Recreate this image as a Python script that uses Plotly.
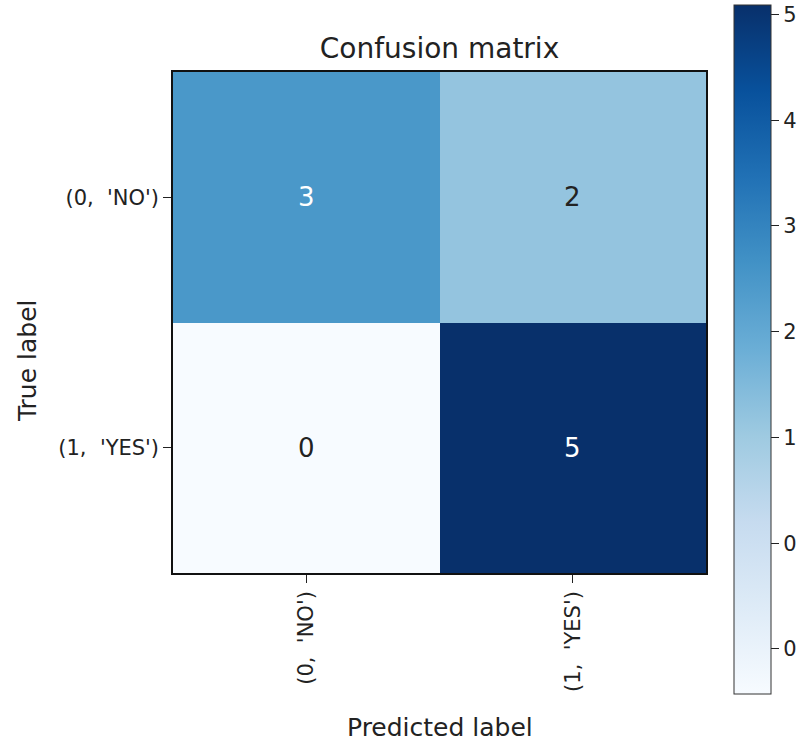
import plotly.graph_objects as go

# Confusion matrix counts (rows: true label, columns: predicted label)
class_labels = ["(0,  'NO')", "(1,  'YES')"]
counts = [[3, 2],
          [0, 5]]

# Colorbar tick positions/labels as rendered
cbar_tickvals = [4.93, 4.16, 3.40, 2.63, 1.86, 1.09, 0.33]
cbar_ticktext = ["5", "4", "3", "2", "1", "0", "0"]

# matplotlib "Blues" colormap
blues = [
    [0.0, "#f7fbff"], [0.125, "#deebf7"], [0.25, "#c6dbef"],
    [0.375, "#9ecae1"], [0.5, "#6baed6"], [0.625, "#4292c6"],
    [0.75, "#2171b5"], [0.875, "#08519c"], [1.0, "#08306b"],
]

W, H = 803, 749
L, R, T, B = 173, 97, 72, 176
plot_w = W - L - R
plot_h = H - T - B
TXT = "#222222"

fig = go.Figure(go.Heatmap(
    z=counts, x=class_labels, y=class_labels,
    colorscale=blues, zmin=0, zmax=5,
    colorbar=dict(
        x=(734 - L) / plot_w, xanchor="left", xpad=0,
        y=(H - B - 349.5) / plot_h, yanchor="middle", ypad=0,
        lenmode="pixels", len=689, thickness=37,
        outlinewidth=1, outlinecolor="#333333",
        tickmode="array", tickvals=cbar_tickvals, ticktext=cbar_ticktext,
        ticks="outside", ticklen=8, tickcolor=TXT,
        tickfont=dict(size=21, color=TXT),
    ),
    hoverinfo="skip",
))

# Cell value annotations: white text on dark cells
thresh = max(max(r) for r in counts) / 2
for i, row in enumerate(counts):
    for j, v in enumerate(row):
        fig.add_annotation(
            x=class_labels[j], y=class_labels[i], text=str(v),
            showarrow=False,
            font=dict(size=26, color="white" if v > thresh else TXT),
        )

# Axis titles
fig.add_annotation(x=0.5, y=0, xref="paper", yref="paper", yshift=-(727 - (H - B)),
                   text="Predicted label", showarrow=False, yanchor="middle",
                   font=dict(size=25, color=TXT))
fig.add_annotation(x=(28 - L) / plot_w, y=(H - B - 361) / plot_h,
                   xref="paper", yref="paper", text="True label", textangle=-90,
                   showarrow=False, xanchor="center", yanchor="middle",
                   font=dict(size=25, color=TXT))

axis_common = dict(
    showline=True, mirror=True, linecolor="#111111", linewidth=1.5,
    ticks="outside", ticklen=8, tickcolor=TXT,
    showgrid=False, zeroline=False,
    tickfont=dict(size=21, color=TXT),
)

fig.update_layout(
    width=W, height=H,
    margin=dict(l=L, r=R, t=T, b=B, autoexpand=False),
    paper_bgcolor="white", plot_bgcolor="white",
    font=dict(family="DejaVu Sans"),
    title=dict(text="Confusion matrix", x=0.5, xref="paper", xanchor="center",
               y=(H - 48) / H, yref="container", yanchor="middle",
               font=dict(size=28, color=TXT)),
    xaxis=dict(**axis_common, tickangle=-90),
    yaxis=dict(**axis_common, autorange="reversed"),
)

fig.write_html("out.html")
